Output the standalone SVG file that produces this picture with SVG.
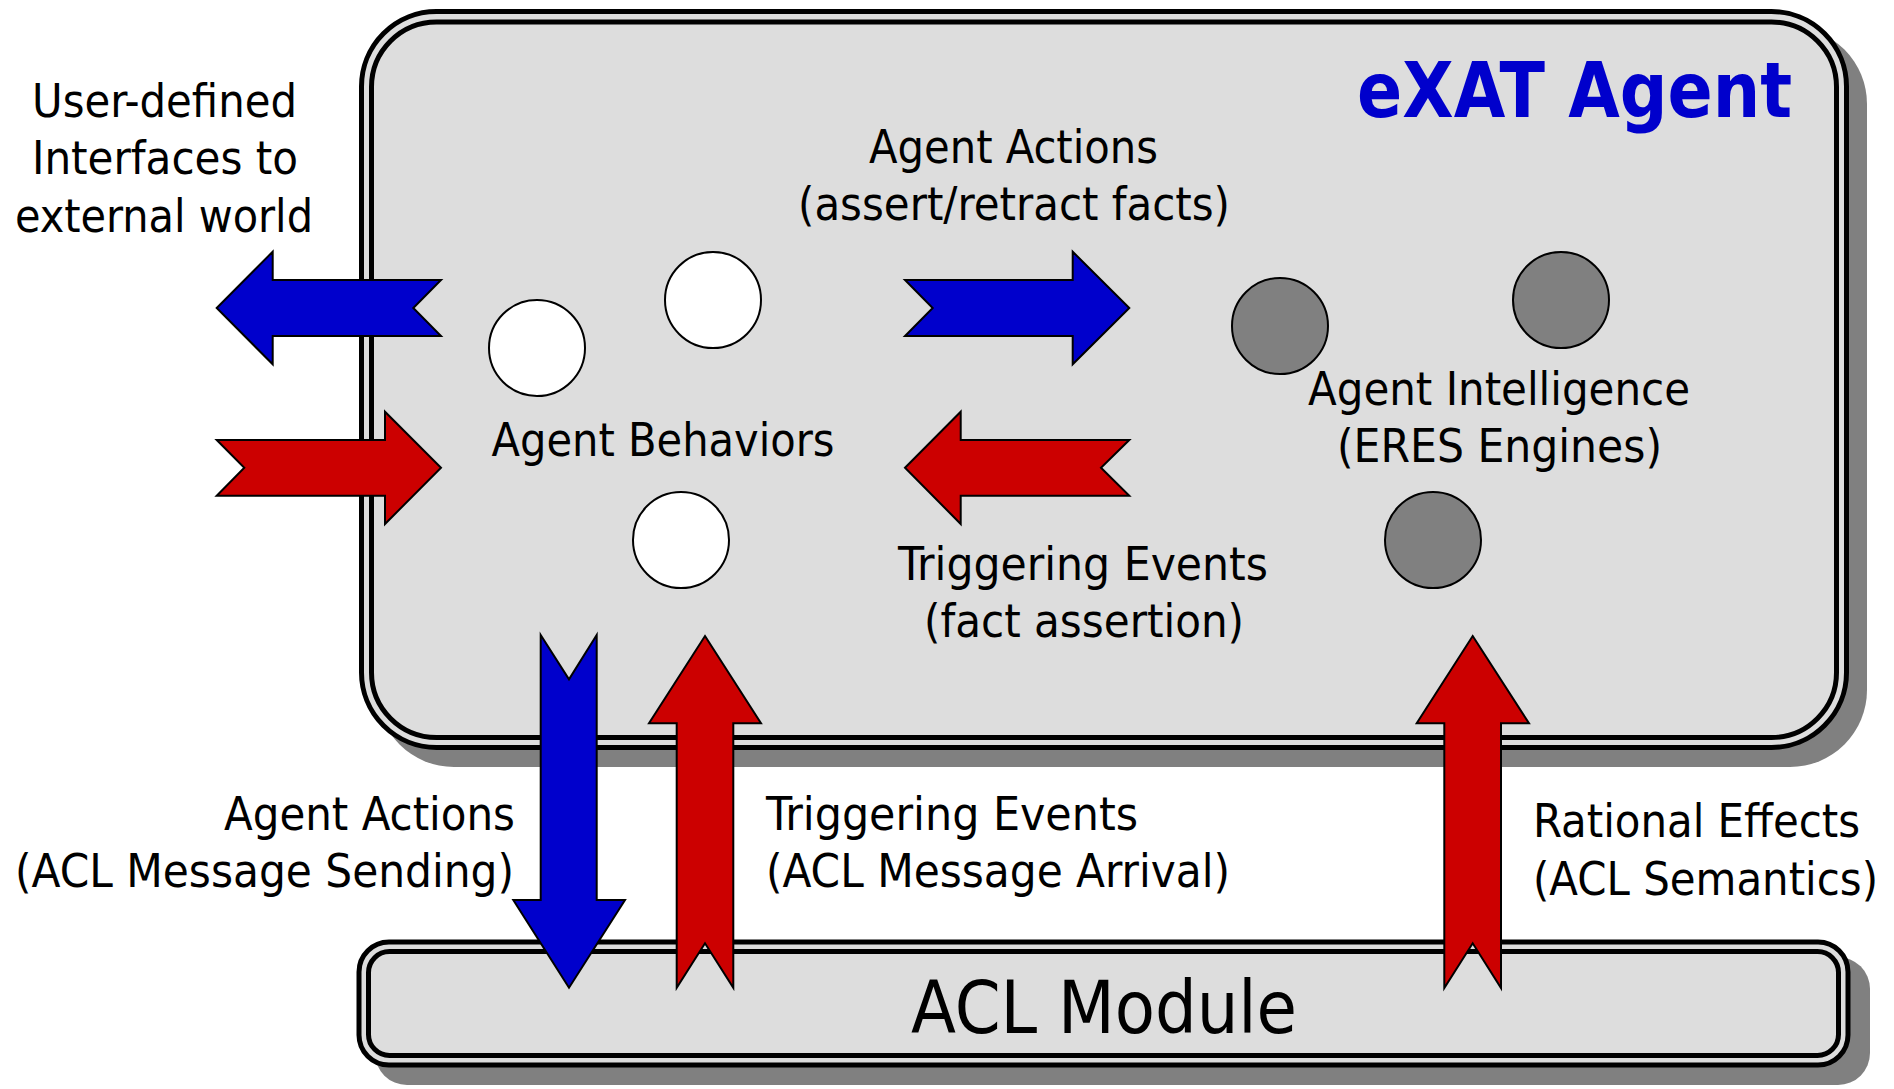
<svg xmlns="http://www.w3.org/2000/svg" width="1894" height="1089" viewBox="0 0 1894 1089">
<style>
.shadow{fill:#808080;stroke:none}
.box{fill:#DDDDDD;stroke:#000;stroke-width:5}
.inner{fill:none;stroke:#000;stroke-width:5}
.wc{fill:#FFFFFF;stroke:#000;stroke-width:2}
.gc{fill:#808080;stroke:#000;stroke-width:2}
.t{font-family:"DejaVu Sans Condensed","DejaVu Sans",sans-serif;font-size:46px;fill:#000}
.big{font-family:"DejaVu Sans Condensed","DejaVu Sans",sans-serif;font-size:73px;fill:#000}
.title{font-family:"DejaVu Sans Condensed","DejaVu Sans",sans-serif;font-size:76px;font-weight:bold;fill:#0000CC}
.blue{fill:#0000CC;stroke:#000;stroke-width:2;stroke-linejoin:miter}
.red{fill:#CC0000;stroke:#000;stroke-width:2;stroke-linejoin:miter}
</style>
<rect width="1894" height="1089" fill="#FFFFFF"/>
<g id="exat-agent">
<rect class="shadow" x="377" y="27" width="1490" height="740" rx="77" ry="77"/>
<rect class="box" x="361.5" y="11.5" width="1485" height="736" rx="75" ry="75"/>
<rect class="inner" x="371.5" y="22" width="1465" height="715.5" rx="65" ry="65"/>
<text class="title" x="1357" y="117" textLength="435" lengthAdjust="spacingAndGlyphs">eXAT Agent</text>
</g>
<g id="acl-module">
<rect class="shadow" x="375" y="957" width="1495" height="128" rx="32" ry="32"/>
<rect class="box" x="359" y="942" width="1489" height="123" rx="30" ry="30"/>
<rect class="inner" x="368.5" y="951.5" width="1470" height="104" rx="21" ry="21"/>
<text class="big" x="911" y="1033" textLength="386" lengthAdjust="spacingAndGlyphs">ACL Module</text>
</g>
<g id="behavior-1"><circle class="wc" cx="537" cy="348" r="48"/></g>
<g id="behavior-2"><circle class="wc" cx="713" cy="300" r="48"/></g>
<g id="behavior-3"><circle class="wc" cx="681" cy="540" r="48"/></g>
<g id="agent-behaviors-label"><text class="t" x="491.5" y="455.5" textLength="343" lengthAdjust="spacingAndGlyphs">Agent Behaviors</text></g>
<g id="engine-1"><circle class="gc" cx="1280" cy="326" r="48"/></g>
<g id="engine-2"><circle class="gc" cx="1561" cy="300" r="48"/></g>
<g id="engine-3"><circle class="gc" cx="1433" cy="540" r="48"/></g>
<g id="agent-intelligence-label">
<text class="t" x="1308" y="405" textLength="382" lengthAdjust="spacingAndGlyphs">Agent Intelligence</text>
<text class="t" x="1337" y="461.5" textLength="325" lengthAdjust="spacingAndGlyphs">(ERES Engines)</text>
</g>
<g id="external-world-label">
<text class="t" x="32" y="116.5" textLength="265" lengthAdjust="spacingAndGlyphs">User-defined</text>
<text class="t" x="32" y="174" textLength="266" lengthAdjust="spacingAndGlyphs">Interfaces to</text>
<text class="t" x="15" y="231.5" textLength="298" lengthAdjust="spacingAndGlyphs">external world</text>
</g>
<g id="connectors">
<polygon class="blue" points="216.7,308 272.7,251.7 272.7,280 441,280 413.3,308 441,336 272.7,336 272.7,364.3"/>
<polygon class="red" points="216.7,440 385,440 385,411.7 441,467.7 385,524 385,495.7 216.7,495.7 244.3,467.7"/>
<polygon class="blue" points="905,280 1072.7,280 1072.7,251.7 1129.3,308 1072.7,364.3 1072.7,336 905,336 932.7,308"/>
<polygon class="red" points="905,467.7 960.7,411.7 960.7,440 1129.3,440 1101,467.7 1129.3,495.7 960.7,495.7 960.7,524"/>
<polygon class="blue" points="540.7,635 569,679.3 596.7,635 596.7,900 625,900 569,987.7 513.3,900 540.7,900"/>
<polygon class="red" points="705,636 761,723.3 733.3,723.3 733.3,987.7 705,943.3 676.7,987.7 676.7,723.3 649,723.3"/>
<polygon class="red" points="1472.7,636 1529,723.3 1501,723.3 1501,988 1472.7,943.3 1444.3,988 1444.3,723.3 1416.7,723.3"/>
<g id="connector-labels">
<text class="t" x="869" y="163" textLength="289" lengthAdjust="spacingAndGlyphs">Agent Actions</text>
<text class="t" x="798" y="220" textLength="432" lengthAdjust="spacingAndGlyphs">(assert/retract facts)</text>
<text class="t" x="898" y="580" textLength="370" lengthAdjust="spacingAndGlyphs">Triggering Events</text>
<text class="t" x="924" y="637" textLength="320" lengthAdjust="spacingAndGlyphs">(fact assertion)</text>
<text class="t" x="224" y="830" textLength="291" lengthAdjust="spacingAndGlyphs">Agent Actions</text>
<text class="t" x="15" y="887" textLength="499" lengthAdjust="spacingAndGlyphs">(ACL Message Sending)</text>
<text class="t" x="766" y="830" textLength="372" lengthAdjust="spacingAndGlyphs">Triggering Events</text>
<text class="t" x="766" y="887" textLength="464" lengthAdjust="spacingAndGlyphs">(ACL Message Arrival)</text>
<text class="t" x="1533" y="836.5" textLength="327" lengthAdjust="spacingAndGlyphs">Rational Effects</text>
<text class="t" x="1533" y="895" textLength="345" lengthAdjust="spacingAndGlyphs">(ACL Semantics)</text>
</g>
</g>
</svg>
